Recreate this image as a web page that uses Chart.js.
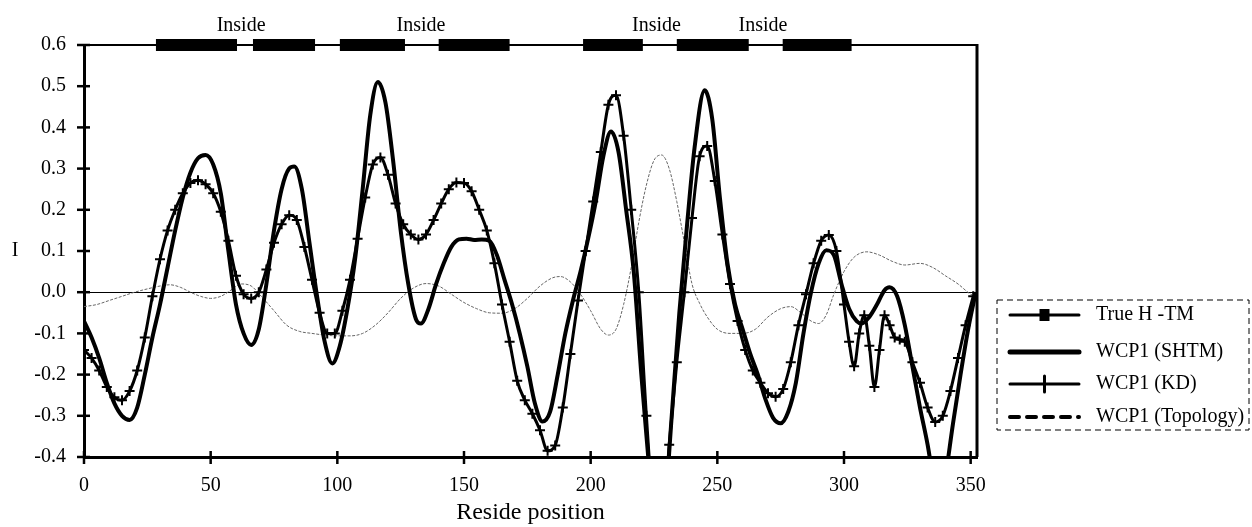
<!DOCTYPE html>
<html>
<head>
<meta charset="utf-8">
<script src="https://cdn.jsdelivr.net/npm/chart.js@4.4.1/dist/chart.umd.min.js"></script>
<style>
  html, body { margin: 0; padding: 0; background: #fff; }
  #wrap { width: 1252px; height: 527px; }
</style>
</head>
<body>
<div id="wrap"><canvas id="profileChart"></canvas></div>
<script>
// axis ticks
const xTicks = [0, 50, 100, 150, 200, 250, 300, 350];
const yTicks = [-0.4, -0.3, -0.2, -0.1, 0, 0.1, 0.2, 0.3, 0.4, 0.5, 0.6];

// True H-TM segments, drawn on the top line
const tmStart = [28.4, 66.7, 101, 140, 197, 234, 275.8];
const tmEnd = [60.4, 91.2, 126.7, 168, 220.6, 262.4, 303];
const tmLevel = 0.6;
const insideAt = [62, 133, 226, 268];
const insideText = 'Inside';

// WCP1 (SHTM)
const shtmX = [0, 3, 6, 9, 12, 15, 18, 21, 24, 27, 30, 33, 36, 39, 42, 45, 48, 51, 54, 57, 60, 63, 66, 69,
  72, 75, 78, 81, 83, 86, 89, 92, 95, 98, 101, 104, 107, 110, 113, 116, 119, 122, 125, 128, 131, 133,
  136, 139, 142, 145, 148, 151, 154, 157, 160, 163, 166, 169, 172, 175, 178, 181, 184, 187, 190, 193,
  196, 199, 202, 205, 208, 211, 214, 217, 220, 223, 226, 229, 232, 235, 238, 241, 245, 248, 251, 254,
  257, 260, 263, 266, 269, 272, 275, 278, 281, 284, 287, 290, 293, 296, 299, 302, 305, 307, 310, 313,
  316, 318, 321, 324, 327, 330, 333, 336, 338, 340, 343, 346, 349, 352];
const shtmY = [-0.07, -0.11, -0.16, -0.22, -0.27, -0.3, -0.31, -0.28, -0.2, -0.11, -0.03, 0.06, 0.15,
  0.23, 0.29, 0.325, 0.333, 0.31, 0.24, 0.1, -0.03, -0.1, -0.128, -0.09, 0.02, 0.15, 0.25, 0.3, 0.305,
  0.25, 0.12, -0.01, -0.12, -0.173, -0.13, -0.04, 0.08, 0.25, 0.43, 0.51, 0.46, 0.32, 0.15, 0.02,
  -0.065, -0.076, -0.04, 0.02, 0.07, 0.11, 0.128, 0.13, 0.127, 0.128, 0.125, 0.09, 0.03, -0.03, -0.1,
  -0.18, -0.27, -0.314, -0.29, -0.2, -0.1, -0.02, 0.05, 0.13, 0.22, 0.33, 0.39, 0.34, 0.2, 0.05, -0.2,
  -0.42, -0.65, -0.55, -0.3, -0.05, 0.16, 0.35, 0.49, 0.42, 0.23, 0.07, -0.03, -0.09, -0.15, -0.2,
  -0.26, -0.305, -0.318, -0.29, -0.22, -0.1, 0.0, 0.07, 0.102, 0.09, 0.02, -0.04, -0.07, -0.076, -0.06,
  -0.03, 0.005, 0.012, -0.01, -0.08, -0.18, -0.28, -0.37, -0.48, -0.52, -0.45, -0.32, -0.2, -0.09, 0.0];

// WCP1 (KD)
const kdX = [0, 3, 6, 9, 12, 15, 18, 21, 24, 27, 30, 33, 36, 39, 42, 45, 48, 51, 54, 57, 60, 63, 66, 69,
  72, 75, 78, 81, 84, 87, 90, 93, 96, 99, 102, 105, 108, 111, 114, 117, 120, 123, 126, 129, 132, 135,
  138, 141, 144, 147, 150, 153, 156, 159, 162, 165, 168, 171, 174, 177, 180, 183, 186, 189, 192, 195,
  198, 201, 204, 207, 210, 213, 216, 219, 222, 225, 228, 231, 234, 237, 240, 243, 246, 249, 252, 255,
  258, 261, 264, 267, 270, 273, 276, 279, 282, 285, 288, 291, 294, 297, 300, 302, 304, 306, 308, 310,
  312, 314, 316, 318, 320, 322, 324, 327, 330, 333, 336, 339, 342, 345, 348, 351];
const kdY = [-0.14, -0.16, -0.19, -0.23, -0.255, -0.262, -0.24, -0.19, -0.11, -0.01, 0.08, 0.15, 0.2,
  0.24, 0.265, 0.272, 0.262, 0.24, 0.195, 0.125, 0.04, -0.005, -0.015, 0.0, 0.055, 0.12, 0.165, 0.187,
  0.175, 0.11, 0.03, -0.05, -0.1, -0.1, -0.045, 0.03, 0.13, 0.23, 0.31, 0.327, 0.285, 0.215, 0.165,
  0.14, 0.128, 0.14, 0.175, 0.215, 0.25, 0.266, 0.265, 0.245, 0.2, 0.15, 0.07, -0.03, -0.12, -0.215,
  -0.262, -0.295, -0.335, -0.385, -0.372, -0.28, -0.15, -0.02, 0.1, 0.22, 0.34, 0.455, 0.478, 0.38,
  0.2, 0.0, -0.3, -0.55, -0.6, -0.37, -0.17, 0.0, 0.18, 0.33, 0.355, 0.27, 0.14, 0.02, -0.07, -0.14,
  -0.19, -0.22, -0.245, -0.254, -0.235, -0.17, -0.08, -0.005, 0.07, 0.125, 0.139, 0.1, -0.03, -0.12,
  -0.18, -0.1, -0.056, -0.13, -0.23, -0.14, -0.056, -0.08, -0.11, -0.115, -0.12, -0.17, -0.22, -0.28,
  -0.315, -0.3, -0.24, -0.16, -0.08, -0.01];

// WCP1 (Topology)
const topoX = [0, 5, 10, 15, 20, 25, 30, 34, 38, 42, 46, 50, 54, 58, 62, 66, 70, 75, 80, 85, 90, 95, 100,
  105, 110, 115, 120, 125, 130, 135, 140, 145, 150, 155, 160, 165, 170, 175, 180, 185, 188, 192, 196,
  200, 204, 207, 210, 213, 216, 219, 222, 225, 228, 231, 234, 237, 240, 243, 246, 250, 255, 260, 265,
  270, 275, 279, 283, 287, 290, 293, 296, 300, 304, 309, 314, 319, 324, 330, 335, 340, 345, 350, 352];
const topoY = [-0.035, -0.03, -0.02, -0.01, 0.0, 0.008, 0.015, 0.018, 0.012, 0.0, -0.01, -0.015, -0.01,
  0.005, 0.02, 0.015, -0.01, -0.045, -0.08, -0.095, -0.1, -0.104, -0.106, -0.106, -0.1, -0.08, -0.05,
  -0.015, 0.01, 0.021, 0.015, -0.005, -0.025, -0.04, -0.05, -0.051, -0.04, -0.015, 0.015, 0.035, 0.038,
  0.025, -0.005, -0.045, -0.09, -0.104, -0.09, -0.03, 0.06, 0.17, 0.26, 0.32, 0.333, 0.3, 0.22, 0.12,
  0.02, -0.027, -0.06, -0.09, -0.1, -0.1, -0.09, -0.06, -0.04, -0.035, -0.05, -0.07, -0.076, -0.055,
  -0.005, 0.05, 0.085, 0.098, 0.09, 0.075, 0.066, 0.07, 0.06, 0.04, 0.02, -0.005, -0.01];

const legendNames = ['True H -TM', 'WCP1 (SHTM)', 'WCP1 (KD)', 'WCP1 (Topology)'];

const pts = (xs, ys) => xs.map((x, i) => ({ x: x, y: ys[i] }));
const tmPts = tmStart.flatMap((s, i) => [
  { x: s, y: tmLevel }, { x: tmEnd[i], y: tmLevel }, { x: tmEnd[i], y: null }
]);

const serif = "'Liberation Serif', 'Times New Roman', serif";
Chart.defaults.font.family = serif;
Chart.defaults.color = '#000';

// frame, crossing tick marks, labels and the boxed legend
const framePlugin = {
  id: 'frame',
  beforeDatasetsDraw(chart) {
    const ctx = chart.ctx, a = chart.chartArea;
    const xs = chart.scales.x, ys = chart.scales.y;
    ctx.save();
    ctx.strokeStyle = '#000';
    ctx.lineWidth = 2;
    ctx.beginPath();
    ctx.moveTo(a.left, a.top); ctx.lineTo(a.right, a.top);
    ctx.stroke();
    ctx.lineWidth = 3;
    ctx.beginPath();
    ctx.moveTo(a.right, a.top - 1); ctx.lineTo(a.right, a.bottom);
    ctx.stroke();
    ctx.lineWidth = 2.5;
    ys.ticks.forEach(t => {
      const p = ys.getPixelForValue(t.value);
      ctx.beginPath(); ctx.moveTo(a.left - 7, p); ctx.lineTo(a.left + 6, p); ctx.stroke();
    });
    xs.ticks.forEach(t => {
      const p = xs.getPixelForValue(t.value);
      ctx.beginPath(); ctx.moveTo(p, a.bottom - 6); ctx.lineTo(p, a.bottom + 7); ctx.stroke();
    });
    ctx.restore();
  },
  afterDraw(chart) {
    const ctx = chart.ctx, a = chart.chartArea;
    const xs = chart.scales.x, ys = chart.scales.y;
    ctx.save();
    ctx.fillStyle = '#000';
    ctx.strokeStyle = '#000';
    ctx.font = '20px ' + serif;
    ctx.textAlign = 'center';
    ctx.textBaseline = 'middle';
    insideAt.forEach(v => ctx.fillText(insideText, xs.getPixelForValue(v), 26));
    ctx.fillText('I', 15, ys.getPixelForValue(0.1));

    // legend
    const L = a.right + 20, T = a.top + 255, W = 252, H = 130;
    ctx.lineWidth = 1;
    ctx.setLineDash([6, 4]);
    ctx.strokeRect(L, T, W, H);
    ctx.setLineDash([]);
    const rows = [15, 52, 84, 117];
    const x0 = L + 13, x1 = L + 82, xm = (x0 + x1) / 2;
    ctx.lineCap = 'round';
    rows.forEach((r, i) => {
      const y = T + r;
      ctx.beginPath();
      if (i === 0) {
        ctx.lineWidth = 3;
        ctx.moveTo(x0, y); ctx.lineTo(x1, y); ctx.stroke();
        ctx.fillRect(xm - 5, y - 6, 10, 12);
      } else if (i === 1) {
        ctx.lineWidth = 5;
        ctx.moveTo(x0, y); ctx.lineTo(x1, y); ctx.stroke();
      } else if (i === 2) {
        ctx.lineWidth = 3;
        ctx.moveTo(x0, y); ctx.lineTo(x1, y); ctx.stroke();
        ctx.beginPath(); ctx.moveTo(xm, y - 8); ctx.lineTo(xm, y + 8); ctx.stroke();
      } else {
        ctx.lineWidth = 4;
        ctx.setLineDash([9, 8]);
        ctx.moveTo(x0, y); ctx.lineTo(x1, y); ctx.stroke();
        ctx.setLineDash([]);
      }
      ctx.textAlign = 'left';
      ctx.fillText(legendNames[i], L + 99, y);
    });
    ctx.restore();
  }
};

new Chart(document.getElementById('profileChart'), {
  type: 'line',
  data: {
    datasets: [
      {
        label: legendNames[0],
        data: tmPts,
        borderColor: '#000',
        borderWidth: 12,
        borderCapStyle: 'butt',
        pointRadius: 0,
        spanGaps: false,
        clip: false
      },
      {
        label: legendNames[1],
        data: pts(shtmX, shtmY),
        borderColor: '#000',
        borderWidth: 4,
        pointRadius: 0,
        cubicInterpolationMode: 'monotone'
      },
      {
        label: legendNames[2],
        data: pts(kdX, kdY),
        borderColor: '#000',
        borderWidth: 3,
        pointStyle: 'cross',
        pointRadius: 5,
        pointBorderWidth: 2,
        pointBorderColor: '#000',
        cubicInterpolationMode: 'monotone'
      },
      {
        label: legendNames[3],
        data: pts(topoX, topoY),
        borderColor: '#666',
        borderWidth: 1,
        borderDash: [3, 1.5],
        pointRadius: 0,
        cubicInterpolationMode: 'monotone'
      }
    ]
  },
  options: {
    responsive: true,
    maintainAspectRatio: false,
    animation: false,
    layout: { padding: { top: 45, right: 275, bottom: 0, left: 0 } },
    plugins: {
      legend: { display: false },
      tooltip: { enabled: false }
    },
    scales: {
      x: {
        type: 'linear',
        min: 0,
        max: 352.5,
        afterBuildTicks: s => { s.ticks = xTicks.map(v => ({ value: v })); },
        afterFit: s => { s.height = 70; },
        grid: { display: false },
        border: { color: '#000', width: 3 },
        ticks: { font: { size: 20 }, padding: 9, maxRotation: 0 },
        title: {
          display: true,
          text: 'Reside position',
          font: { size: 24 },
          padding: { top: 0, bottom: 0 }
        }
      },
      y: {
        min: -0.4,
        max: 0.6,
        afterBuildTicks: s => { s.ticks = yTicks.map(v => ({ value: v })); },
        afterFit: s => { s.width = 84; },
        grid: {
          drawTicks: false,
          lineWidth: 1,
          color: c => (c.tick && Math.abs(c.tick.value) < 1e-9) ? '#000' : 'rgba(0,0,0,0)'
        },
        border: { color: '#000', width: 3 },
        ticks: {
          font: { size: 20 },
          padding: 18,
          callback: v => Math.abs(v) < 1e-9 ? '0.0' : v.toFixed(1)
        }
      }
    }
  },
  plugins: [framePlugin]
});
</script>
</body>
</html>
